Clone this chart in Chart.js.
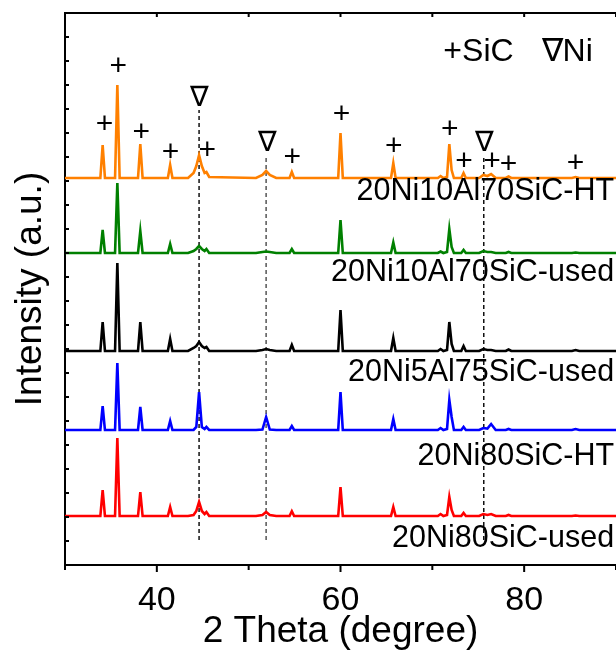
<!DOCTYPE html>
<html>
<head>
<meta charset="utf-8">
<script src="https://cdn.jsdelivr.net/npm/chart.js@4.4.1/dist/chart.umd.min.js"></script>
<style>
  html, body { margin: 0; padding: 0; background: #fff; }
  #wrap { width: 616px; height: 653px; }
</style>
</head>
<body>
<div id="wrap"><canvas id="xrd" width="616" height="653"></canvas></div>
<script>
// 2-theta sample points (degrees), shared by all patterns
const twoTheta = [30, 33.85, 34.1, 34.35, 35.45, 35.7, 35.95, 37.95, 38.2, 38.45, 41.2, 41.45, 41.7,
    43.4, 44.0, 44.3, 44.6, 44.9, 45.2, 45.4, 45.7, 50.8, 51.5, 51.9, 52.3, 53.0, 54.45, 54.7, 54.95,
    59.75, 60.0, 60.25, 65.5, 65.75, 66.0, 70.6, 70.9, 71.2, 71.6, 71.85, 72.1, 72.35, 73.15, 73.4, 73.65,
    75.1, 75.55, 76.0, 76.4, 76.9, 78.0, 78.3, 78.6, 85.2, 85.6, 86.0, 90];

// intensity above each pattern's own baseline (a.u.)
const ni20al10HT = [0, 0, 33, 0, 0, 93, 0, 0, 34, 0, 0, 13, 0,
    0, 5, 12, 23, 12, 5, 6, 1, 0, 3, 7, 3, 0, 0, 6, 0,
    0, 45, 0, 0, 15, 0, 0, 2, 0, 1, 34, 8, 0, 0, 5, 0,
    0, 3, 2, 4, 0, 0, 1.5, 0, 0, 1, 0, 0];
const ni20al10Used = [0, 0, 23, 0, 0, 70, 0, 0, 22, 0, 0, 9, 0,
    0, 2, 4, 7, 4, 2, 4, 0, 0, 1, 1.5, 1, 0, 0, 4, 0,
    0, 33, 0, 0, 10.6, 0, 0, 1.5, 0, 1, 24, 6, 0, 0, 3, 0,
    0, 2, 1, 1, 0, 0, 1, 0, 0, 0.5, 0, 0];
const ni20al5Used = [0, 0, 29, 0, 0, 88, 0, 0, 29, 0, 0, 12, 0,
    0, 3, 5, 9, 5, 3, 4, 0, 0, 1, 2, 1, 0, 0, 6, 0,
    0, 41, 0, 0, 13, 0, 0, 2, 0, 1, 29, 7, 0, 0, 5, 0,
    0, 2, 1, 1, 0, 0, 1.5, 0, 0, 1, 0, 0];
const ni20HT = [0, 0, 24, 0, 0, 67, 0, 0, 23, 0, 0, 9, 0,
    0, 0, 3, 38, 3, 1, 3, 0, 0, 0.5, 13, 0.5, 0, 0, 4, 0,
    0, 38, 0, 0, 11, 0, 0, 2, 0, 1, 30, 13, 0, 0, 3, 0,
    0, 2, 1.5, 6, 0, 0, 1, 0, 0, 1, 0, 0];
const ni20Used = [0, 0, 26, 0, 0, 78, 0, 0, 24, 0, 0, 9, 0,
    0, 1, 5, 14, 5, 2, 4, 0, 0, 1, 4, 1, 0, 0, 4.7, 0,
    0, 29, 0, 0, 9, 0, 0, 2, 0, 1, 19, 6, 0, 0, 3, 0,
    0, 2, 1, 2, 0, 0, 1, 0, 0, 0.5, 0, 0];

const sampleNames = ["20Ni10Al70SiC-HT", "20Ni10Al70SiC-used", "20Ni5Al75SiC-used", "20Ni80SiC-HT", "20Ni80SiC-used"];
const patterns = [ni20al10HT, ni20al10Used, ni20al5Used, ni20HT, ni20Used];
const baselines = [387, 312, 214, 135, 49];   // vertical offset of each pattern
const nameY = [373, 292, 192, 108, 26];
const colors = ["#ff8000", "#008000", "#000000", "#0000ff", "#ff0000"];

const xTicks = [30, 40, 50, 60, 70, 80, 90];
const xLabels = [40, 60, 80];

// phase markers (2theta, height)
const sicAt = [34.3, 35.8, 38.3, 41.5, 45.5, 54.75, 60.1, 65.8, 71.9, 73.45, 76.5, 78.3, 85.6];
const sicY = [440, 498, 432, 412, 414, 407, 450, 418, 435, 403, 403, 400, 401];
const niAt = [44.7, 52.0, 75.7];
const niY = [467, 422, 422];
const niLines = [44.6, 51.9, 75.6];
const niLineTop = [455, 408, 408];

const FONT = "'Liberation Sans', Arial, sans-serif";

const datasets = patterns.map((vals, k) => ({
    label: sampleNames[k],
    data: twoTheta.map((t, i) => ({ x: t, y: baselines[k] + vals[i] })),
    borderColor: colors[k],
    borderWidth: 2.6,
    pointRadius: 0,
    showLine: true,
    tension: 0,
    order: 1
}));
niLines.forEach((v, i) => {
    datasets.push({
        data: [{ x: v, y: 25 }, { x: v, y: niLineTop[i] }],
        borderColor: i === 1 ? "#555" : "#111",
        borderWidth: 1.5,
        borderDash: [4, 3],
        pointRadius: 0,
        showLine: true,
        order: 2
    });
});

const decorations = {
    id: 'decorations',
    afterDraw(chart) {
        const { ctx, chartArea: a, scales: { x, y } } = chart;
        ctx.save();
        ctx.strokeStyle = "#000";
        ctx.lineWidth = 2;
        ctx.beginPath();
        xTicks.forEach(v => {
            const px = x.getPixelForValue(v);
            const len = xLabels.includes(v) ? 7 : 5;
            ctx.moveTo(px, a.bottom); ctx.lineTo(px, a.bottom + len);
            ctx.moveTo(px, a.top); ctx.lineTo(px, a.top + 4);
        });
        y.ticks.forEach(t => {
            const py = y.getPixelForValue(t.value);
            ctx.moveTo(a.left, py); ctx.lineTo(a.left + 4, py);
        });
        ctx.stroke();

        ctx.fillStyle = "#000";
        ctx.textBaseline = "middle";
        // sample names
        ctx.font = "30.5px " + FONT;
        ctx.textAlign = "right";
        sampleNames.forEach((n, k) => ctx.fillText(n, x.getPixelForValue(89.8), y.getPixelForValue(nameY[k])));
        // legend
        ctx.textAlign = "left";
        ctx.font = "32px " + FONT;
        ctx.fillText("+SiC", x.getPixelForValue(71.2), y.getPixelForValue(513));
        ctx.fillText("\u2207Ni", x.getPixelForValue(81.9), y.getPixelForValue(513));
        // markers
        ctx.textAlign = "center";
        ctx.font = "30px " + FONT;
        sicAt.forEach((v, i) => ctx.fillText("+", x.getPixelForValue(v), y.getPixelForValue(sicY[i])));
        ctx.font = "28px " + FONT;
        niAt.forEach((v, i) => ctx.fillText("\u2207", x.getPixelForValue(v), y.getPixelForValue(niY[i])));
        ctx.restore();
    }
};

new Chart(document.getElementById("xrd"), {
    type: "scatter",
    data: { datasets: datasets },
    options: {
        responsive: false,
        animation: false,
        layout: { padding: 0 },
        plugins: { legend: { display: false }, tooltip: { enabled: false } },
        scales: {
            x: {
                type: "linear", position: "bottom", min: 30, max: 90,
                afterBuildTicks: s => { s.ticks = xTicks.map(v => ({ value: v })); },
                afterFit: s => { s.height = 88; s.paddingLeft = 0; s.paddingRight = 0; },
                grid: { display: false, drawTicks: false },
                border: { display: true, color: "#000", width: 2 },
                ticks: {
                    color: "#000", font: { family: FONT, size: 34 }, padding: 15, maxRotation: 0,
                    callback: v => xLabels.includes(v) ? String(v) : ""
                },
                title: {
                    display: true, text: "2 Theta (degree)", color: "#000",
                    font: { family: FONT, size: 37, lineHeight: 1 }, padding: { top: 0, bottom: 3 }
                }
            },
            xTop: {
                type: "linear", position: "top", min: 30, max: 90,
                afterFit: s => { s.height = 13; s.paddingLeft = 0; s.paddingRight = 0; },
                grid: { display: false, drawTicks: false },
                border: { display: true, color: "#000", width: 2 },
                ticks: { display: false }
            },
            y: {
                type: "linear", min: 0, max: 552,
                afterFit: s => { s.width = 65; },
                grid: { display: false, drawTicks: false },
                border: { display: true, color: "#000", width: 2 },
                ticks: { stepSize: 24, display: false },
                title: {
                    display: true, text: "Intensity (a.u.)", color: "#000",
                    font: { family: FONT, size: 37, lineHeight: 1.2 }, padding: { top: 9, bottom: 0 }
                }
            }
        }
    },
    plugins: [decorations]
});
</script>
</body>
</html>
